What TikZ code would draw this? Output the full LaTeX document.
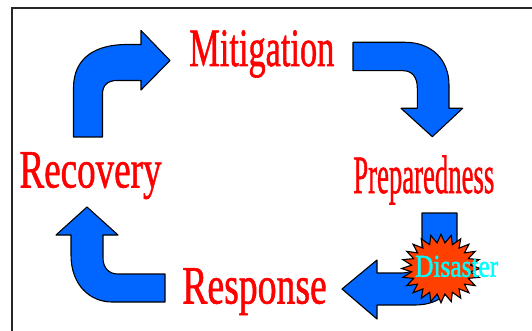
\documentclass[tikz,border=0pt]{standalone}
\usepackage{fontspec}
\usepackage{graphicx}
\setmainfont{Liberation Serif}
\newfontfamily\lblfont[FakeBold=1.2]{Liberation Serif}
\newfontfamily\disfont[FakeBold=1.6]{Liberation Serif}
\definecolor{arrowblue}{RGB}{0,102,255}
\definecolor{burstred}{RGB}{255,64,0}
\definecolor{lblred}{RGB}{255,0,0}
\definecolor{discyan}{RGB}{0,255,255}
\tikzset{
  bigarrow/.style={fill=arrowblue, draw=black, line width=1.1pt, line join=round},
  burst/.style={fill=burstred, draw=black, line width=1.1pt, line join=miter},
  lbl/.style={inner sep=0pt, outer sep=0pt, text=lblred, font=\lblfont\fontsize{54}{56}\selectfont, anchor=base west},
  dis/.style={inner sep=0pt, outer sep=0pt, text=discyan, font=\disfont\fontsize{31.7}{33}\selectfont, anchor=base}
}
\begin{document}
\begin{tikzpicture}[x=1pt,y=-1pt]
\clip (0,0) rectangle (532,331);
\fill[white] (0,0) rectangle (532,331);
% frame
\draw[line width=1.6pt, black!85] (11.7,8.3) rectangle (560,360);

% arrow Recovery -> Mitigation
\draw[bigarrow] (73.5,137) -- (73.5,88) .. controls (73.5,58) and (95,44.5) .. (127,44.5)
  -- (141,44.5) -- (141,30.5) -- (170,60.5) -- (141,90) -- (141,80.5) -- (117,80.5)
  .. controls (108,80.5) and (102.5,85) .. (102.5,94) -- (102.5,137) -- cycle;

% arrow Mitigation -> Preparedness
\draw[bigarrow] (353,42.3) -- (405,42.3) .. controls (432,42.3) and (449,60) .. (449,85)
  -- (449,108.3) -- (462.7,108.3) -- (432.3,136.7) -- (401,108.3) -- (417.3,108.3)
  -- (417.3,88) .. controls (417.3,77) and (412,70.7) .. (403,70.7) -- (353,70.7) -- cycle;

% arrow Preparedness -> Response
\draw[bigarrow] (422,213) -- (457,213) -- (457,268) .. controls (457,290) and (440,305) .. (415,305)
  -- (377,305) -- (377,319) -- (342,289) -- (377,260) -- (377,273) -- (402,273)
  .. controls (414,273) and (422,265) .. (422,252) -- cycle;

% arrow Response -> Recovery
\draw[bigarrow] (165,274) -- (118,274) .. controls (109,274) and (103,268) .. (103,258)
  -- (103,235) -- (118,235) -- (87,207) -- (56,235) -- (71,235) -- (71,255)
  .. controls (71,285) and (90,302) .. (112,302) -- (165,302) -- cycle;

% disaster burst
\draw[burst] plot[samples at={0,...,47}, variable=\k]
  ({441+ifthenelse(mod(\k,2)==0,1,0.75)*39.5*cos(\k*7.5)},
   {268.5+ifthenelse(mod(\k,2)==0,1,0.75)*34.3*sin(\k*7.5)}) -- cycle;
\node[dis] (dis) at (456.7,276.7) {\resizebox{83pt}{\height}{Disaster}};

% labels
\node[lbl] (mit) at (189.3,66) {\resizebox{145pt}{\height}{Mitigation}};
\node[lbl] (prep) at (353.3,193) {\resizebox{141pt}{\height}{Preparedness}};
\node[lbl] (resp) at (182.3,303.5) {\resizebox{144.5pt}{\height}{Response}};
\node[lbl] (rec) at (19.5,187.5) {\resizebox{142pt}{\height}{Recovery}};
\end{tikzpicture}
\end{document}
